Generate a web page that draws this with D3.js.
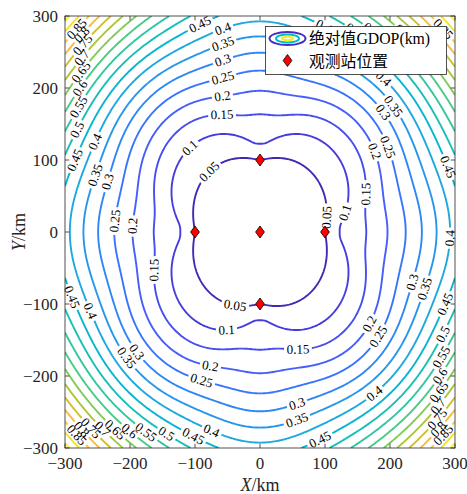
<!DOCTYPE html>
<html><head><meta charset="utf-8">
<script src="https://cdn.jsdelivr.net/npm/d3@7"></script>
<style>body{margin:0;background:#fff}</style>
</head><body>
<svg id="chart" width="467" height="494"></svg>
<script>
// ---------------- data ----------------
const stationX = [0, 100, -100, 0, 0];      // km, station 0 = reference
const stationY = [0, 0, 0, 100, -100];
const rangeSigmaKm = 0.03;                   // range-difference error
const contourLevels = [0.05,0.1,0.15,0.2,0.25,0.3,0.35,0.4,0.45,0.5,0.55,0.6,0.65,0.7,0.75,0.8,0.85,0.9,0.95];
const xTickValues = [-300,-200,-100,0,100,200,300];
const yTickValues = [-300,-200,-100,0,100,200,300];
const xDomain = [-300, 300];
const yDomain = [-300, 300];
const legendLabels = ["绝对值GDOP(km)", "观测站位置"];
const xLabel = ["X", "/km"];
const yLabel = ["Y", "/km"];

// parula colormap (64)
const parula = [[0.2422,0.1504,0.6603],[0.2504,0.1650,0.7076],[0.2578,0.1818,0.7511],[0.2647,0.1978,0.7952],[0.2706,0.2147,0.8364],[0.2751,0.2342,0.8710],[0.2783,0.2559,0.8991],[0.2803,0.2782,0.9221],[0.2813,0.3006,0.9414],[0.2810,0.3228,0.9579],[0.2795,0.3447,0.9717],[0.2760,0.3667,0.9829],[0.2699,0.3892,0.9906],[0.2602,0.4123,0.9952],[0.2440,0.4358,0.9988],[0.2206,0.4603,0.9973],[0.1963,0.4847,0.9892],[0.1834,0.5074,0.9798],[0.1786,0.5289,0.9682],[0.1764,0.5499,0.9520],[0.1687,0.5703,0.9359],[0.1540,0.5902,0.9218],[0.1460,0.6091,0.9079],[0.1380,0.6276,0.8973],[0.1248,0.6459,0.8883],[0.1113,0.6635,0.8763],[0.0952,0.6798,0.8598],[0.0689,0.6948,0.8394],[0.0297,0.7082,0.8163],[0.0036,0.7203,0.7917],[0.0067,0.7312,0.7660],[0.0433,0.7411,0.7394],[0.0964,0.7500,0.7120],[0.1408,0.7584,0.6842],[0.1717,0.7670,0.6554],[0.1938,0.7758,0.6251],[0.2161,0.7843,0.5923],[0.2470,0.7918,0.5567],[0.2906,0.7973,0.5188],[0.3406,0.8008,0.4789],[0.3909,0.8029,0.4354],[0.4456,0.8024,0.3909],[0.5044,0.7993,0.3480],[0.5616,0.7942,0.3045],[0.6174,0.7876,0.2612],[0.6720,0.7793,0.2227],[0.7242,0.7698,0.1910],[0.7738,0.7598,0.1646],[0.8203,0.7498,0.1535],[0.8634,0.7406,0.1596],[0.9035,0.7330,0.1774],[0.9393,0.7288,0.2100],[0.9728,0.7298,0.2394],[0.9956,0.7434,0.2371],[0.9970,0.7659,0.2199],[0.9952,0.7893,0.2028],[0.9892,0.8136,0.1885],[0.9786,0.8386,0.1766],[0.9676,0.8639,0.1643],[0.9610,0.8890,0.1537],[0.9597,0.9135,0.1423],[0.9628,0.9373,0.1265],[0.9691,0.9606,0.1064],[0.9769,0.9839,0.0805]];
const pc = i => { const c = parula[Math.max(0, Math.min(63, i))]; return d3.rgb(c[0]*255, c[1]*255, c[2]*255).formatHex(); };

// ---------------- layout ----------------
const W = 467, H = 494;
const PL = 65, PR = 455, PT = 16, PB = 448;
const serif = "'Liberation Serif','Times New Roman',serif";
const cjk = "'Liberation Serif','Noto Sans CJK SC',serif";
const x = d3.scaleLinear().domain(xDomain).range([PL, PR]);
const y = d3.scaleLinear().domain(yDomain).range([PB, PT]);
const svg = d3.select("#chart");

// ---------------- GDOP field (TDOA, reference station 0) ----------------
function gdop(px, py) {
  const dx0 = px - stationX[0], dy0 = py - stationY[0];
  const d0 = Math.hypot(dx0, dy0) || 1e-12;
  const ux0 = dx0 / d0, uy0 = dy0 / d0;
  let a = 0, b = 0, c = 0;
  for (let i = 1; i < stationX.length; i++) {
    const dx = px - stationX[i], dy = py - stationY[i];
    const d = Math.hypot(dx, dy) || 1e-12;
    const hx = dx / d - ux0, hy = dy / d - uy0;
    a += hx * hx; b += hx * hy; c += hy * hy;
  }
  const det = a * c - b * b;
  return rangeSigmaKm * Math.sqrt((a + c) / det);
}
const N = 241;
const step = (xDomain[1] - xDomain[0]) / (N - 1);
const values = new Array(N * N);
for (let j = 0; j < N; j++) {
  const yy = yDomain[1] - j * step;
  for (let i = 0; i < N; i++) values[j * N + i] = gdop(xDomain[0] + i * step, yy);
}
const zExt = d3.extent(values);
const levelColor = v => pc(Math.floor((v - zExt[0]) / (zExt[1] - zExt[0]) * 64));

const contours = d3.contours().size([N, N]).thresholds(contourLevels)(values);
const toPix = p => [x(xDomain[0] + (p[0] - 0.5) * step), y(yDomain[1] - (p[1] - 0.5) * step)];

function buildLines(contour) {
  const out = [];
  const isB = p => p[0] < 0.25 || p[0] > N - 0.25 || p[1] < 0.25 || p[1] > N - 0.25;
  contour.coordinates.forEach(poly => poly.forEach(ring => {
    const pts = ring.slice(0, ring.length - 1);
    const flags = pts.map(isB);
    if (!flags.some(f => f)) { out.push({closed: true, pts: pts.map(toPix)}); return; }
    const k0 = flags.indexOf(true), n = pts.length;
    let cur = [];
    for (let t = 1; t <= n; t++) {
      const idx = (k0 + t) % n;
      if (flags[idx]) { if (cur.length > 1) out.push({closed: false, pts: cur.map(toPix)}); cur = []; }
      else cur.push(pts[idx]);
    }
  }));
  return out;
}

// ---------------- label helpers ----------------
const labelSize = 13;
const ctx = document.createElement("canvas").getContext("2d");
ctx.font = labelSize + "px 'Liberation Serif'";
function cumLen(pts) { const c = [0]; for (let i = 1; i < pts.length; i++) c.push(c[i-1] + Math.hypot(pts[i][0]-pts[i-1][0], pts[i][1]-pts[i-1][1])); return c; }
function pointAt(pts, cum, s) {
  const L = cum[cum.length - 1];
  s = Math.max(0, Math.min(L, s));
  let lo = 0, hi = cum.length - 1;
  while (hi - lo > 1) { const m = (lo + hi) >> 1; if (cum[m] <= s) lo = m; else hi = m; }
  const seg = cum[hi] - cum[lo] || 1e-9, t = (s - cum[lo]) / seg;
  return [pts[lo][0] + t * (pts[hi][0] - pts[lo][0]), pts[lo][1] + t * (pts[hi][1] - pts[lo][1])];
}
const CX = (PL + PR) / 2, CY = (PT + PB) / 2;
function labelPositions(line, w) {
  let pts = line.pts.slice();
  const res = [];
  const S = 190;
  if (line.closed) {
    let area = 0;
    for (let i = 0; i < pts.length; i++) { const p = pts[i], q = pts[(i+1) % pts.length]; area += p[0]*q[1] - q[0]*p[1]; }
    if (area < 0) pts.reverse();
    let ti = 0; pts.forEach((p, i) => { if (p[1] < pts[ti][1]) ti = i; });
    pts = pts.slice(ti).concat(pts.slice(0, ti)); pts.push(pts[0]);
    const cum = cumLen(pts), L = cum[cum.length - 1];
    if (L < 2.5 * w) return res;
    const n = Math.max(1, Math.round(L / S));
    const wrap = v => ((v % L) + L) % L;
    for (let k = 0; k < n; k++) {
      const s = wrap(-38 + k * L / n);
      res.push({p: pointAt(pts, cum, s), a: pointAt(pts, cum, wrap(s - w/2)), b: pointAt(pts, cum, wrap(s + w/2))});
    }
  } else {
    let sum = 0;
    for (let i = 1; i < pts.length; i++) {
      let d = Math.atan2(pts[i][1]-CY, pts[i][0]-CX) - Math.atan2(pts[i-1][1]-CY, pts[i-1][0]-CX);
      if (d > Math.PI) d -= 2*Math.PI; if (d < -Math.PI) d += 2*Math.PI;
      sum += d;
    }
    if (sum < 0) pts.reverse();
    const cum = cumLen(pts), L = cum[cum.length - 1];
    if (L < w + 8) return res;
    const s0 = Math.min(28, L / 2);
    for (let s = s0; s <= L - Math.min(s0, w/2 + 2) + 0.01; s += S) {
      res.push({p: pointAt(pts, cum, s), a: pointAt(pts, cum, s - w/2), b: pointAt(pts, cum, s + w/2)});
    }
  }
  return res.filter(r => r.p[0] > PL + 5 && r.p[0] < PR - 5 && r.p[1] > PT + 5 && r.p[1] < PB - 5);
}

// ---------------- drawing ----------------
const defs = svg.append("defs");
defs.append("clipPath").attr("id", "plotClip").append("rect")
  .attr("x", PL).attr("y", PT).attr("width", PR - PL).attr("height", PB - PT);
const linesG = svg.append("g").attr("clip-path", "url(#plotClip)");
const textG = svg.append("g");
const lineGen = d3.line();

contours.forEach((ct, k) => {
  const lines = buildLines(ct);
  if (!lines.length) return;
  const col = levelColor(ct.value);
  const txt = String(contourLevels[k]);
  const w = ctx.measureText(txt).width;
  const mask = defs.append("mask").attr("id", "m" + k).attr("maskUnits", "userSpaceOnUse")
    .attr("x", 0).attr("y", 0).attr("width", W).attr("height", H);
  mask.append("rect").attr("x", 0).attr("y", 0).attr("width", W).attr("height", H).attr("fill", "white");
  const g = linesG.append("g").attr("mask", "url(#m" + k + ")");
  lines.forEach(line => {
    g.append("path").attr("d", lineGen(line.pts) + (line.closed ? "Z" : ""))
      .attr("fill", "none").attr("stroke", col).attr("stroke-width", 1.9).attr("stroke-linejoin", "round");
    labelPositions(line, w).forEach(lb => {
      let ang = Math.atan2(lb.b[1] - lb.a[1], lb.b[0] - lb.a[0]) * 180 / Math.PI;
      if (ang > 90) ang -= 180; if (ang < -90) ang += 180;
      const tr = `translate(${lb.p[0]},${lb.p[1]}) rotate(${ang})`;
      mask.append("rect").attr("x", -w/2 - 2.5).attr("y", -labelSize * 0.45).attr("width", w + 5)
        .attr("height", labelSize * 0.9).attr("fill", "black").attr("transform", tr);
      textG.append("text").attr("transform", tr).attr("text-anchor", "middle").attr("dy", "0.33em")
        .attr("font-family", serif).attr("font-size", labelSize).attr("fill", "#000").text(txt);
    });
  });
});

// station markers
const diamond = "M0,-6 L4.4,0 L0,6 L-4.4,0 Z";
svg.append("g").selectAll("path").data(stationX.map((sx, i) => [sx, stationY[i]])).join("path")
  .attr("d", diamond).attr("transform", d => `translate(${x(d[0])},${y(d[1])})`)
  .attr("fill", "#ff0000").attr("stroke", "#000").attr("stroke-width", 0.8);

// axes frame and ticks
const axG = svg.append("g").attr("stroke", "#262626").attr("stroke-width", 0.8);
const TL = 4.3;
xTickValues.forEach(t => {
  axG.append("line").attr("x1", x(t)).attr("x2", x(t)).attr("y1", PB).attr("y2", PB - TL);
  axG.append("line").attr("x1", x(t)).attr("x2", x(t)).attr("y1", PT).attr("y2", PT + TL);
});
yTickValues.forEach(t => {
  axG.append("line").attr("y1", y(t)).attr("y2", y(t)).attr("x1", PL).attr("x2", PL + TL);
  axG.append("line").attr("y1", y(t)).attr("y2", y(t)).attr("x1", PR).attr("x2", PR - TL);
});
axG.append("rect").attr("x", PL).attr("y", PT).attr("width", PR - PL).attr("height", PB - PT).attr("fill", "none");
const fmt = d3.format("d");
const tickG = svg.append("g").attr("font-family", serif).attr("font-size", 17).attr("fill", "#262626");
xTickValues.forEach(t => tickG.append("text").attr("x", x(t)).attr("y", PB + 21).attr("text-anchor", "middle").text(fmt(t)));
yTickValues.forEach(t => tickG.append("text").attr("x", PL - 7).attr("y", y(t) + 6).attr("text-anchor", "end").text(fmt(t)));
const xl = svg.append("text").attr("x", (PL + PR) / 2).attr("y", 491).attr("text-anchor", "middle")
  .attr("font-family", serif).attr("font-size", 18).attr("fill", "#262626");
xl.append("tspan").attr("font-style", "italic").text(xLabel[0]);
xl.append("tspan").text(xLabel[1]);
const yl = svg.append("text").attr("transform", `translate(25,${(PT + PB) / 2}) rotate(-90)`).attr("text-anchor", "middle")
  .attr("font-family", serif).attr("font-size", 18).attr("fill", "#262626");
yl.append("tspan").attr("font-style", "italic").text(yLabel[0]);
yl.append("tspan").text(yLabel[1]);

// legend
const lg = svg.append("g");
lg.append("rect").attr("x", 265.5).attr("y", 26.5).attr("width", 181).attr("height", 48)
  .attr("fill", "#fff").attr("stroke", "#262626").attr("stroke-width", 0.8);
[[18, 6.5, pc(2)], [11.5, 4, pc(30)], [5.5, 1.8, pc(61)]].forEach(e => {
  lg.append("ellipse").attr("cx", 287.5).attr("cy", 38.5).attr("rx", e[0]).attr("ry", e[1])
    .attr("fill", "none").attr("stroke", e[2]).attr("stroke-width", 2);
});
lg.append("path").attr("d", diamond).attr("transform", "translate(287.5,60.5)")
  .attr("fill", "#ff0000").attr("stroke", "#000").attr("stroke-width", 0.8);
legendLabels.forEach((t, i) => lg.append("text").attr("x", 309).attr("y", 44 + i * 22.5)
  .attr("font-family", cjk).attr("font-size", 15.8).attr("fill", "#000").text(t));
</script>
</body></html>
